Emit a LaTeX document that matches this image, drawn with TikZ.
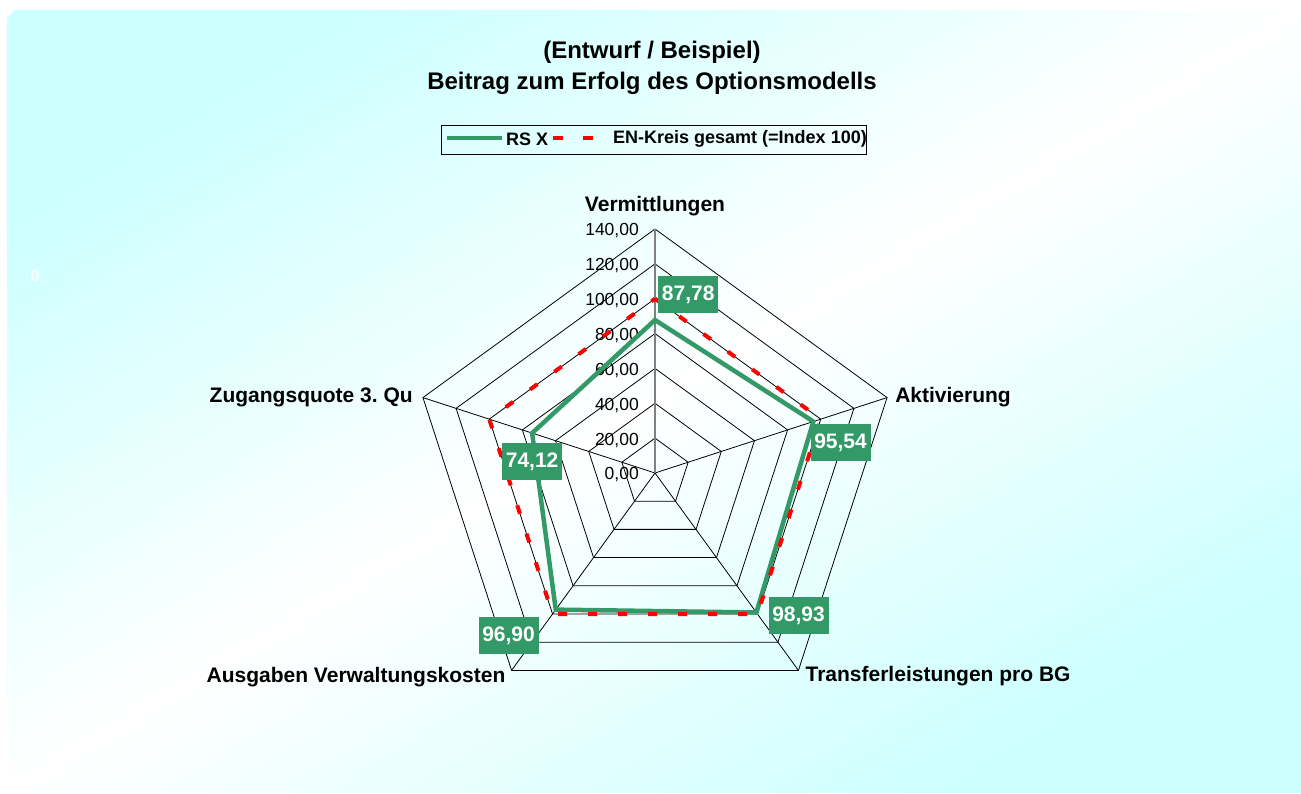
\documentclass[tikz,border=0pt]{standalone}
\usepackage{fontspec}
\setmainfont{Liberation Sans}
\frenchspacing
\definecolor{ChartGreen}{HTML}{339966}
\definecolor{ChartRed}{HTML}{FF0000}
\definecolor{PanelCyan}{HTML}{CCFFFF}
\usetikzlibrary{positioning}
\pgfdeclarehorizontalshading{panelshade}{100bp}{color(0bp)=(PanelCyan); color(25bp)=(PanelCyan); color(50bp)=(white); color(75bp)=(PanelCyan); color(100bp)=(PanelCyan)}

\begin{document}
\begin{tikzpicture}[
    x=1pt, y=1pt,
    grid/.style={black, line width=0.8pt},
    mainaxis/.style={gray, line width=1.3pt},
    rsline/.style={ChartGreen, line width=4.5pt},
    enline/.style={ChartRed, line width=4pt, dash pattern=on 9pt off 21pt},
    ticklab/.style={font=\fontsize{17.5}{20}\selectfont, anchor=east, inner sep=0pt},
    axlab/.style={font=\bfseries\fontsize{21}{24}\selectfont, inner sep=0pt},
    vallab/.style={fill=ChartGreen, text=white, font=\bfseries\fontsize{21}{24}\selectfont,
      minimum width=60pt, minimum height=37pt, inner sep=2pt},
    legtxt/.style={font=\bfseries\fontsize{18}{20}\selectfont, inner sep=0pt, anchor=west}
  ]
  \useasboundingbox (0,0) rectangle (1301,793);
  \fill[white] (0,0) rectangle (1301,793);
  \shade[shading=panelshade, shading angle=-58.8]
    (7,0) -- (7,775) -- (15,783) -- (1301,783) -- (1301,0) -- cycle;

  % title and legend
  \node[font=\bfseries\fontsize{24}{31}\selectfont, align=center] (title) at (652,725)
    {(Entwurf / Beispiel)\\Beitrag zum Erfolg des Optionsmodells};
  \draw[line width=0.8pt] (441,668) rectangle (866,639);
  \coordinate (lgA) at (447,655);
  \coordinate (lgB) at (502,655);
  \draw[rsline] (lgA) -- (lgB);
  \node[legtxt] (lg1) at (506,654) {RS X};
  \coordinate (lgC) at (553,655);
  \coordinate (lgD) at (603,655);
  \draw[enline, dash pattern=on 10pt off 20pt] (lgC) -- (lgD);
  \node[legtxt] (lg2) at (613,654) {EN-Kreis gesamt (=Index 100)};
  \node[font=\bfseries\fontsize{16}{18}\selectfont, text=white] (zero) at (35,517) {0};

  % radar
  \begin{scope}[shift={(655,320)}, x=1.742857pt, y=1.742857pt]
    \foreach \r in {20,40,...,140}
      \draw[grid] (90:\r) -- (18:\r) -- (-54:\r) -- (-126:\r) -- (162:\r) -- cycle;
    \coordinate (c0) at (0,0);
    \foreach \a [count=\i] in {90,18,-54,-126,162} {
      \coordinate (p\i) at (\a:140);
      \coordinate (e\i) at (\a:100);
    }
    \foreach \i in {2,...,5}
      \draw[grid] (c0) -- (p\i);
    \draw[mainaxis] (c0) -- (p1);
    \foreach \v in {0,20,...,140}
      \node[ticklab, xshift=-16pt, yshift=-2pt] (t\v) at (0,\v) {\v,00};

    % data
    \coordinate (v1) at (90:87.78);
    \coordinate (v2) at (18:95.54);
    \coordinate (v3) at (-54:98.93);
    \coordinate (v4) at (-126:96.90);
    \coordinate (v5) at (162:74.12);
    \draw[rsline] (v1) -- (v2) -- (v3) -- (v4) -- (v5) -- cycle;
    \draw[enline] (e1) -- (e2) -- (e3) -- (e4) -- (e5) -- cycle;

    \node[vallab, above right=7pt and 3pt of v1] (l1) {87,78};
    \node[vallab, below right=2.5pt and -3pt of v2] (l2) {95,54};
    \node[vallab, right=12pt of v3, yshift=-3.5pt] (l3) {98,93};
    \node[vallab, below left=7pt and 17pt of v4] (l4) {96,90};
    \node[vallab, below=10pt of v5] (l5) {74,12};

    \node[axlab, above=13pt of p1] (a1) {Vermittlungen};
    \node[axlab, right=8pt of p2] (a2) {Aktivierung};
    \node[axlab, right=7pt of p3, yshift=-6pt] (a3) {Transferleistungen pro BG};
    \node[axlab, left=6pt of p4, yshift=-7pt] (a4) {Ausgaben Verwaltungskosten};
    \node[axlab, left=10pt of p5] (a5) {Zugangsquote 3. Qu};
  \end{scope}
\end{tikzpicture}
\end{document}
